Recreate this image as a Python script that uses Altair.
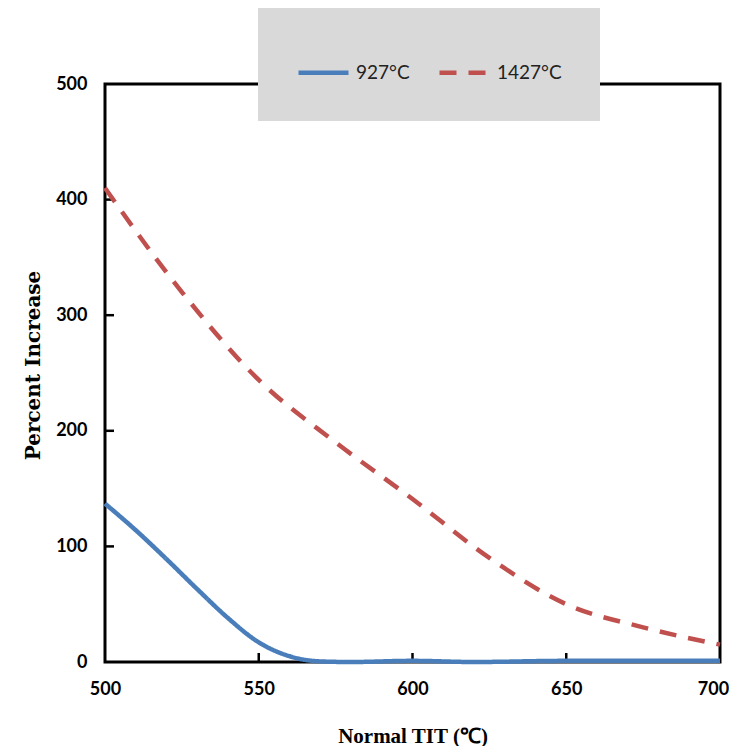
import altair as alt
import pandas as pd

# ---- data ----
x_927 = [500, 510, 520, 530, 540, 550, 560, 570, 580, 600, 620, 650, 700]
y_927 = [137, 114, 89, 63, 38, 17, 5, 0.5, 0, 1, 0, 1, 1]

x_1427 = [500, 525, 550, 575, 600, 625, 650, 675, 700]
y_1427 = [410, 320, 244, 190, 141, 90, 50, 30, 15]

series_names = ["927°C", "1427°C"]
series_colors = ["#4a7ebb", "#c0504d"]

x_ticks = [500, 550, 600, 650, 700]
y_ticks = [0, 100, 200, 300, 400, 500]
x_inner_ticks = [550, 600, 650]
y_inner_ticks = [100, 200, 300, 400]

df = pd.concat([
    pd.DataFrame({"tit": x_927, "pct": y_927, "series": series_names[0]}),
    pd.DataFrame({"tit": x_1427, "pct": y_1427, "series": series_names[1]}),
])

W, H = 615, 578

xscale = alt.Scale(domain=[500, 700], nice=False, zero=False)
yscale = alt.Scale(domain=[0, 500], nice=False)

label_font = "Lato"

lines = alt.Chart(df).mark_line(strokeWidth=4.5, interpolate="monotone", strokeCap="butt").encode(
    x=alt.X("tit:Q", scale=xscale,
            axis=alt.Axis(values=x_ticks, title="Normal TIT (℃)", grid=False, domain=False,
                          ticks=False, labelPadding=18, labelFlush=False, labelFont=label_font,
                          labelFontWeight="bold", labelFontSize=18, labelColor="#000",
                          labelOffset=alt.ExprRef("datum.value == 700 ? -7 : 0"),
                          titleFont="Liberation Serif", titleFontWeight="bold", titleFontSize=21,
                          titleColor="#000", titlePadding=27)),
    y=alt.Y("pct:Q", scale=yscale,
            axis=alt.Axis(values=y_ticks, title="Percent Increase", grid=False, domain=False,
                          ticks=False, labelPadding=18, labelFont=label_font,
                          labelFontWeight="bold", labelFontSize=18, labelColor="#000",
                          titleFont="DejaVu Serif", titleFontWeight="bold", titleFontSize=20,
                          titleColor="#000", titlePadding=12, titleY=281)),
    color=alt.Color("series:N", scale=alt.Scale(domain=series_names, range=series_colors),
                    legend=alt.Legend(title=None)),
    strokeDash=alt.StrokeDash("series:N",
                              scale=alt.Scale(domain=series_names, range=[[1, 0], [17, 12]]),
                              legend=alt.Legend(title=None)),
)

yt = alt.Chart(pd.DataFrame({"v": y_inner_ticks})).mark_rule(color="#000", strokeWidth=2.5).encode(
    y=alt.Y("v:Q", scale=yscale), x=alt.value(0), x2=alt.value(9)
)
xt = alt.Chart(pd.DataFrame({"v": x_inner_ticks})).mark_rule(color="#000", strokeWidth=2.5).encode(
    x=alt.X("v:Q", scale=xscale), y=alt.value(H), y2=alt.value(H - 9)
)

chart = alt.layer(yt, xt, lines).properties(
    width=W, height=H,
    autosize=alt.AutoSizeParams(type="none"),
    padding={"left": 97, "top": 76, "right": 9, "bottom": 84},
).configure_view(
    stroke="#000", strokeWidth=3
).configure_legend(
    orient="none", legendX=153, legendY=-77, direction="horizontal",
    fillColor="#d9d9d9", padding=38, columnPadding=20,
    symbolType="stroke", symbolSize=2500, symbolStrokeWidth=4.5,
    labelFont=label_font, labelFontSize=19, labelColor="#222", labelOffset=5,
)

chart.save("out.html", embed_options={"renderer": "svg", "actions": False})
